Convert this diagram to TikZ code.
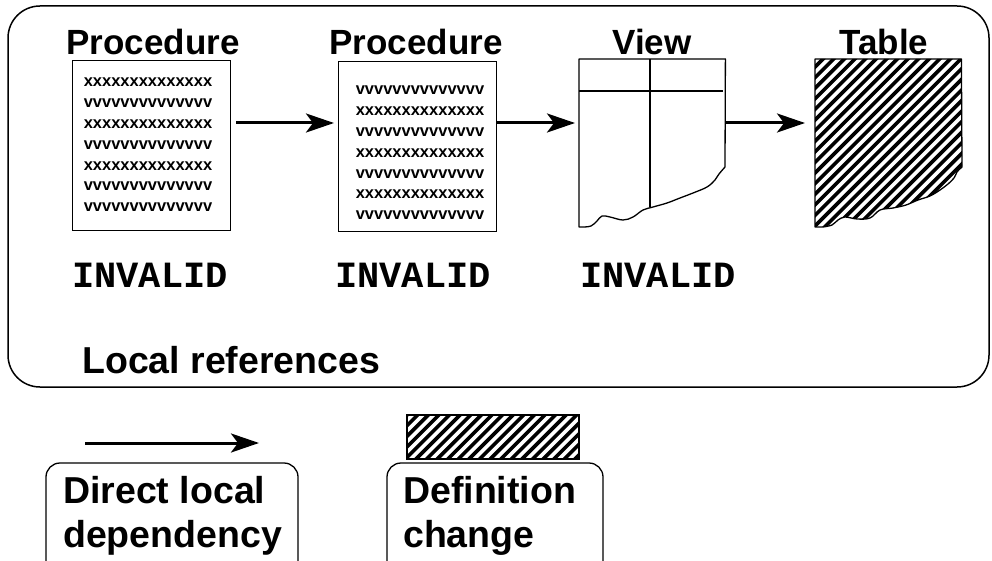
\documentclass[tikz,border=0pt]{standalone}
\usepackage{fontspec}
\setmainfont{Liberation Sans}
\newfontfamily\monobf{Liberation Mono}
\usetikzlibrary{arrows.meta}
\tikzset{
  title/.style={font=\fontsize{35}{40}\selectfont\bfseries, inner sep=0pt, anchor=base},
  codeline/.style={font=\fontsize{16.5}{20}\selectfont\bfseries, inner sep=0pt, anchor=base},
  invalid/.style={font=\fontsize{37}{40}\selectfont\monobf\bfseries, inner sep=0pt, anchor=base},
  bigtext/.style={font=\fontsize{37.5}{44}\selectfont\bfseries, inner sep=0pt, anchor=base west},
  procbox/.style={draw, line width=1.2pt, minimum width=158pt, minimum height=170pt, inner sep=0pt, anchor=north west},
  shapebox/.style={minimum width=146pt, minimum height=168pt, inner sep=0pt, anchor=north west},
  dep/.style={line width=3pt, -{Stealth[length=28pt,width=19pt,inset=7pt]}},
  outline/.style={line width=1.3pt, line join=round},
  hatch/.style={line width=3.6pt},
}
\def\viewpath{(v.north west) -- (v.north east) -- (725,167)
  -- plot[smooth, tension=0.6] coordinates {(725,167) (719,174) (715,180) (707,187) (693,193) (680,198) (667,203) (653,207) (643,210) (633,217) (623,220) (610,217) (602,216) (597,221) (591,226) (583,227)}
  -- (579,227) -- cycle}
\def\tablepath{(tb.north west) -- (tb.north east) -- (962,167)
  -- plot[smooth, tension=0.6] coordinates {(962,167) (957,172) (954,178) (948,184) (940,190) (930,196) (918,200) (906,205) (893,208) (880,210) (870,218) (857,219) (845,217) (838,220) (832,225) (823,227)}
  -- (815,227) -- cycle}
\begin{document}
\begin{tikzpicture}[x=1pt,y=-1pt]
\useasboundingbox (0,0) rectangle (992,561);
\clip (0,0) rectangle (992,561);

% outer frame
\draw[line width=1.5pt, rounded corners=32pt] (8,6) rectangle (989,387);

% titles
\node[title] (t1) at (153,55) {Procedure};
\node[title] (t2) at (416,55) {Procedure};
\node[title] (t3) at (652,55) {View};
\node[title] (t4) at (884,55) {Table};

% procedure boxes
\node[procbox] (p1) at (72,60) {};
\node[procbox] (p2) at (338,61) {};
\foreach \t [count=\i from 0] in {xxxxxxxxxxxxxx,vvvvvvvvvvvvvv,xxxxxxxxxxxxxx,vvvvvvvvvvvvvv,xxxxxxxxxxxxxx,vvvvvvvvvvvvvv,vvvvvvvvvvvvvv}
  \node[codeline] (pa\i) at (148,{87+20.8*\i}) {\t};
\foreach \t [count=\i from 0] in {vvvvvvvvvvvvvv,xxxxxxxxxxxxxx,vvvvvvvvvvvvvv,xxxxxxxxxxxxxx,vvvvvvvvvvvvvv,xxxxxxxxxxxxxx,vvvvvvvvvvvvvv}
  \node[codeline] (pb\i) at (420,{95+20.8*\i}) {\t};

% view
\node[shapebox] (v) at (579,59) {};
\draw[outline] \viewpath;
\draw[outline] (v.north west |- 0,91) -- (723,91);
\draw[outline] (650,59) -- (650,207);

% table
\node[shapebox] (tb) at (815,59) {};
\begin{scope}
  \clip \tablepath;
  \foreach \k in {0,...,34}
    \draw[hatch] ({815-170+10.6*\k},237) -- ++(190,-190);
\end{scope}
\draw[outline] \tablepath;

% dependency arrows
\coordinate (ay) at (0,123);
\draw[dep, shorten <=5pt, shorten >=4pt] (p1.east |- ay) -- (p2.west |- ay);
\draw[dep, shorten >=4pt] (p2.east |- ay) -- (v.west |- ay);
\draw[dep, shorten >=10pt] (v.east |- ay) -- (tb.west |- ay);

% invalid labels
\node[invalid] (i1) at (150,287) {INVALID};
\node[invalid] (i2) at (413,287) {INVALID};
\node[invalid] (i3) at (658,287) {INVALID};

\node[bigtext] (lr) at (82,373) {Local references};

% legend: direct local dependency
\coordinate (la) at (85,443);
\coordinate (lb) at (259,443);
\draw[dep] (la) -- (lb);
\draw[line width=1.3pt, rounded corners=14pt] (46,600) -- (46,463) -- (298,463) -- (298,600);
\node[bigtext] (d1) at (63,503) {Direct local};
\node[bigtext] (d2) at (63,547) {dependency};

% legend: definition change
\node[draw, line width=1.3pt, minimum width=171pt, minimum height=43pt, inner sep=0pt, anchor=north west] (hr) at (407,415) {};
\begin{scope}
  \clip (hr.north west) rectangle (hr.south east);
  \foreach \k in {0,...,22}
    \draw[hatch] ({407-50+10.6*\k},465) -- ++(60,-60);
\end{scope}
\draw[line width=1.3pt] (hr.north west) rectangle (hr.south east);
\draw[line width=1.3pt, rounded corners=14pt] (387,600) -- (387,463) -- (603,463) -- (603,600);
\node[bigtext] (e1) at (403,503) {Definition};
\node[bigtext] (e2) at (403,547) {change};
\end{tikzpicture}
\end{document}
